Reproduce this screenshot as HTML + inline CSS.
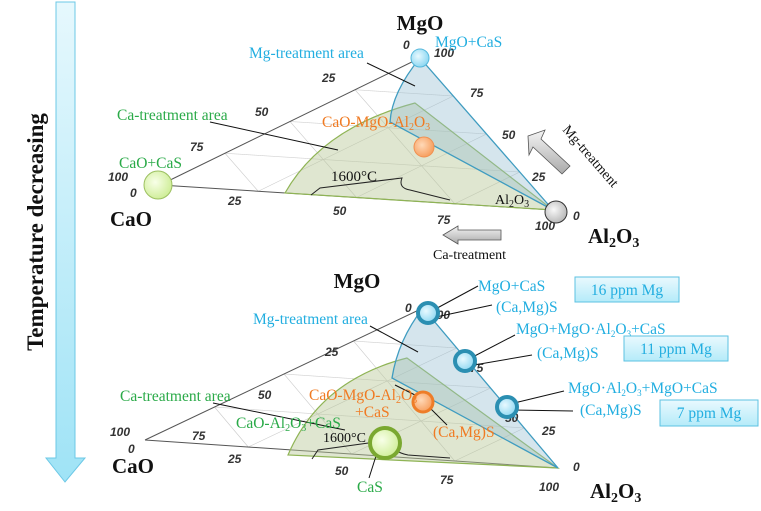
<!DOCTYPE html>
<html><head><meta charset="utf-8"><style>
html,body{margin:0;padding:0;background:#fff;}
svg{display:block;}
.s{font-family:"Liberation Serif",serif;}
.t{font-family:"Liberation Sans",sans-serif;font-style:italic;font-weight:bold;font-size:12px;fill:#333;}
.b{font-family:"Liberation Serif",serif;font-weight:bold;font-size:21px;fill:#111;}
.blu{font-family:"Liberation Serif",serif;font-size:15.5px;fill:#22aee0;}
.grn{font-family:"Liberation Serif",serif;font-size:15.5px;fill:#2aaa48;}
.org{font-family:"Liberation Serif",serif;font-size:15.5px;fill:#f07a22;}
</style></head><body>
<svg width="761" height="511" viewBox="0 0 761 511" xmlns="http://www.w3.org/2000/svg">
<defs>
<linearGradient id="ag" x1="0" y1="0" x2="0" y2="1"><stop offset="0" stop-color="#e6f8fd"/><stop offset="1" stop-color="#9fe3f6"/></linearGradient>
<linearGradient id="bx" x1="0" y1="0" x2="0" y2="1"><stop offset="0" stop-color="#e9f9fe"/><stop offset="1" stop-color="#b5ebf9"/></linearGradient>
<radialGradient id="cb" cx="0.4" cy="0.4" r="0.6"><stop offset="0" stop-color="#e8f9ff"/><stop offset="1" stop-color="#8fd8f2"/></radialGradient>
<radialGradient id="co" cx="0.4" cy="0.4" r="0.6"><stop offset="0" stop-color="#ffd9b8"/><stop offset="1" stop-color="#f7a060"/></radialGradient>
<radialGradient id="cg" cx="0.4" cy="0.4" r="0.6"><stop offset="0" stop-color="#f8ffe8"/><stop offset="1" stop-color="#d0ee9a"/></radialGradient>
<radialGradient id="cy" cx="0.4" cy="0.4" r="0.6"><stop offset="0" stop-color="#f8f8f8"/><stop offset="1" stop-color="#bbb"/></radialGradient>
<linearGradient id="gr" x1="0" y1="0" x2="0" y2="1"><stop offset="0" stop-color="#f4f4f4"/><stop offset="1" stop-color="#aaa"/></linearGradient>
</defs>

<path d="M56,2 L75,2 L75,458 L85,458 L65,482 L46,458 L56,458 Z" fill="url(#ag)" stroke="#6cc8e6" stroke-width="1"/>
<text class="s" transform="translate(43,232) rotate(-90)" text-anchor="middle" font-size="23" font-weight="bold" fill="#111">Temperature decreasing</text>

<!-- TOP TRIANGLE -->
<g transform="matrix(393,25,260,-127,160,185)" fill="none">
<g stroke-dasharray="0.012 0.008" stroke="#999" stroke-width="0.7">
<path vector-effect="non-scaling-stroke" d="M0,0.25 L0.75,0.25 M0,0.5 L0.5,0.5 M0,0.75 L0.25,0.75"/>
</g>
<g stroke="#ccc" stroke-width="0.6">
<path vector-effect="non-scaling-stroke" d="M0.25,0 L0.25,0.75 M0.5,0 L0.5,0.5 M0.75,0 L0.75,0.25"/>
<path vector-effect="non-scaling-stroke" d="M0.75,0 L0,0.75 M0.5,0 L0,0.5 M0.25,0 L0,0.25"/>
</g>
</g>
<path d="M160,185 L420,58 M160,185 L553,210" stroke="#555" stroke-width="1" fill="none"/>
<path d="M285,193 Q322,128 415,103 L553,210 Z" fill="rgba(185,200,150,0.45)" stroke="#8fb455" stroke-width="1.2"/>
<path d="M420,58 Q392,92 390,122 L553,210 Z" fill="rgba(150,190,210,0.4)" stroke="#3f9cc0" stroke-width="1.3"/>
<path d="M311,195 L320,188 L402,178 Q398,188 410,190 L450,200" fill="none" stroke="#222" stroke-width="1"/>
<text class="s" x="331" y="181" font-size="15" fill="#111">1600°C</text>
<g class="t">
<text x="403" y="49">0</text><text x="434" y="57">100</text>
<text x="322" y="82">25</text><text x="470" y="97">75</text>
<text x="255" y="116">50</text><text x="502" y="139">50</text>
<text x="190" y="151">75</text><text x="532" y="181">25</text>
<text x="108" y="181">100</text><text x="130" y="197">0</text>
<text x="228" y="205">25</text><text x="333" y="215">50</text><text x="437" y="224">75</text>
<text x="535" y="230">100</text><text x="573" y="220">0</text>
</g>
<line x1="367" y1="63" x2="415" y2="86" stroke="#111" stroke-width="1"/>
<line x1="210" y1="122" x2="338" y2="150" stroke="#111" stroke-width="1"/>
<circle cx="420" cy="58" r="9" fill="url(#cb)" stroke="#55b8dc"/>
<circle cx="424" cy="147" r="10" fill="url(#co)" stroke="#f09050"/>
<circle cx="158" cy="185" r="14" fill="url(#cg)" stroke="#9cc060"/>
<circle cx="556" cy="212" r="11" fill="url(#cy)" stroke="#333"/>
<text class="b" x="420" y="30" text-anchor="middle">MgO</text>
<text class="blu" x="435" y="47">MgO+CaS</text>
<text class="blu" x="249" y="58">Mg-treatment  area</text>
<text class="grn" x="117" y="120">Ca-treatment  area</text>
<text class="org" x="322" y="127">CaO-MgO-Al<tspan font-size="10" dy="3">2</tspan><tspan dy="-3">O</tspan><tspan font-size="10" dy="3">3</tspan></text>
<text class="grn" x="119" y="168">CaO+CaS</text>
<text class="s" x="495" y="204" font-size="14" fill="#111">Al<tspan font-size="10" dy="3">2</tspan><tspan dy="-3">O</tspan><tspan font-size="10" dy="3">3</tspan></text>
<text class="b" x="110" y="226">CaO</text>
<text class="b" x="588" y="243">Al<tspan font-size="14" dy="4">2</tspan><tspan dy="-4">O</tspan><tspan font-size="14" dy="4">3</tspan></text>
<path d="M528,136 L545,130 L541,139 L570,166 L562,174 L533,147 L529,155 Z" fill="url(#gr)" stroke="#555" stroke-width="0.8"/>
<text class="s" transform="translate(562,130) rotate(49)" font-size="14" fill="#111">Mg-treatment</text>
<path d="M443,235 L458,226 L458,230 L501,230 L501,240 L458,240 L458,244 Z" fill="url(#gr)" stroke="#555" stroke-width="0.8"/>
<text class="s" x="433" y="259" font-size="14" fill="#111">Ca-treatment</text>

<!-- BOTTOM TRIANGLE -->
<g transform="matrix(413,28,278,-132,145,440)" fill="none">
<g stroke-dasharray="0.012 0.008" stroke="#999" stroke-width="0.7">
<path vector-effect="non-scaling-stroke" d="M0,0.25 L0.75,0.25 M0,0.5 L0.5,0.5 M0,0.75 L0.25,0.75"/>
</g>
<g stroke="#ccc" stroke-width="0.6">
<path vector-effect="non-scaling-stroke" d="M0.25,0 L0.25,0.75 M0.5,0 L0.5,0.5 M0.75,0 L0.75,0.25"/>
<path vector-effect="non-scaling-stroke" d="M0.75,0 L0,0.75 M0.5,0 L0,0.5 M0.25,0 L0,0.25"/>
</g>
</g>
<path d="M145,440 L423,308 M145,440 L558,468" stroke="#555" stroke-width="1" fill="none"/>
<path d="M288,455 Q320,380 407,358 L558,468 Z" fill="rgba(185,200,150,0.45)" stroke="#8fb455" stroke-width="1.2"/>
<path d="M423,308 Q398,340 392,378 L558,468 Z" fill="rgba(150,190,210,0.4)" stroke="#3f9cc0" stroke-width="1.3"/>
<path d="M312,459 L318,450 L390,440 Q392,452 408,455 L450,458" fill="none" stroke="#222" stroke-width="1"/>
<g class="t">
<text x="405" y="312">0</text><text x="430" y="319">100</text>
<text x="325" y="356">25</text><text x="470" y="372">75</text>
<text x="258" y="399">50</text><text x="505" y="422">50</text>
<text x="192" y="440">75</text><text x="542" y="435">25</text>
<text x="110" y="436">100</text><text x="128" y="453">0</text>
<text x="228" y="463">25</text><text x="335" y="475">50</text><text x="440" y="484">75</text>
<text x="539" y="491">100</text><text x="573" y="471">0</text>
</g>
<g stroke="#111" stroke-width="1" fill="none">
<line x1="428" y1="313" x2="478" y2="286"/>
<line x1="436" y1="317" x2="492" y2="305"/>
<line x1="465" y1="361" x2="515" y2="335"/>
<line x1="474" y1="365" x2="532" y2="355"/>
<line x1="510" y1="404" x2="564" y2="391"/>
<line x1="512" y1="410" x2="573" y2="411"/>
<line x1="370" y1="326" x2="418" y2="352"/>
<line x1="213" y1="403" x2="345" y2="430"/>
<line x1="395" y1="385" x2="415" y2="395"/>
<line x1="430" y1="408" x2="447" y2="425"/>
<line x1="376" y1="456" x2="369" y2="478"/>
</g>
<circle cx="428" cy="313" r="10" fill="url(#cb)" stroke="#2b8fb2" stroke-width="4"/>
<circle cx="465" cy="361" r="10" fill="url(#cb)" stroke="#2b8fb2" stroke-width="4"/>
<circle cx="507" cy="407" r="10" fill="url(#cb)" stroke="#2b8fb2" stroke-width="4"/>
<circle cx="423" cy="402" r="10" fill="url(#co)" stroke="#ee7d28" stroke-width="3"/>
<circle cx="385" cy="443" r="15" fill="url(#cg)" stroke="#7aa830" stroke-width="4"/>
<text class="b" x="357" y="288" text-anchor="middle">MgO</text>
<text class="blu" x="478" y="291">MgO+CaS</text>
<text class="blu" x="496" y="312">(Ca,Mg)S</text>
<rect x="575" y="277" width="104" height="25" fill="url(#bx)" stroke="#5cc2e2"/>
<text class="blu" x="627" y="295" text-anchor="middle" font-size="15.5">16 ppm Mg</text>
<text class="blu" x="253" y="324">Mg-treatment  area</text>
<text class="blu" x="516" y="334" font-size="13.5">MgO+MgO·Al<tspan font-size="9" dy="3">2</tspan><tspan dy="-3">O</tspan><tspan font-size="9" dy="3">3</tspan><tspan dy="-3">+CaS</tspan></text>
<text class="blu" x="537" y="358">(Ca,Mg)S</text>
<rect x="624" y="336" width="104" height="25" fill="url(#bx)" stroke="#5cc2e2"/>
<text class="blu" x="676" y="354" text-anchor="middle">11 ppm Mg</text>
<text class="blu" x="568" y="393" font-size="13.5">MgO·Al<tspan font-size="9" dy="3">2</tspan><tspan dy="-3">O</tspan><tspan font-size="9" dy="3">3</tspan><tspan dy="-3">+MgO+CaS</tspan></text>
<text class="blu" x="580" y="415">(Ca,Mg)S</text>
<rect x="660" y="400" width="98" height="26" fill="url(#bx)" stroke="#5cc2e2"/>
<text class="blu" x="709" y="418" text-anchor="middle">7 ppm Mg</text>
<text class="grn" x="120" y="401">Ca-treatment  area</text>
<text class="org" x="309" y="400">CaO-MgO-Al<tspan font-size="10" dy="3">2</tspan><tspan dy="-3">O</tspan><tspan font-size="10" dy="3">3</tspan></text>
<text class="org" x="355" y="417">+CaS</text>
<text class="org" x="433" y="437">(Ca,Mg)S</text>
<text class="grn" x="236" y="428">CaO-Al<tspan font-size="10" dy="3">2</tspan><tspan dy="-3">O</tspan><tspan font-size="10" dy="3">3</tspan><tspan dy="-3">+CaS</tspan></text>
<text class="s" x="323" y="442" font-size="14" fill="#111">1600°C</text>
<text class="grn" x="357" y="492">CaS</text>
<text class="b" x="112" y="473">CaO</text>
<text class="b" x="590" y="498">Al<tspan font-size="14" dy="4">2</tspan><tspan dy="-4">O</tspan><tspan font-size="14" dy="4">3</tspan></text>
</svg>
</body></html>
